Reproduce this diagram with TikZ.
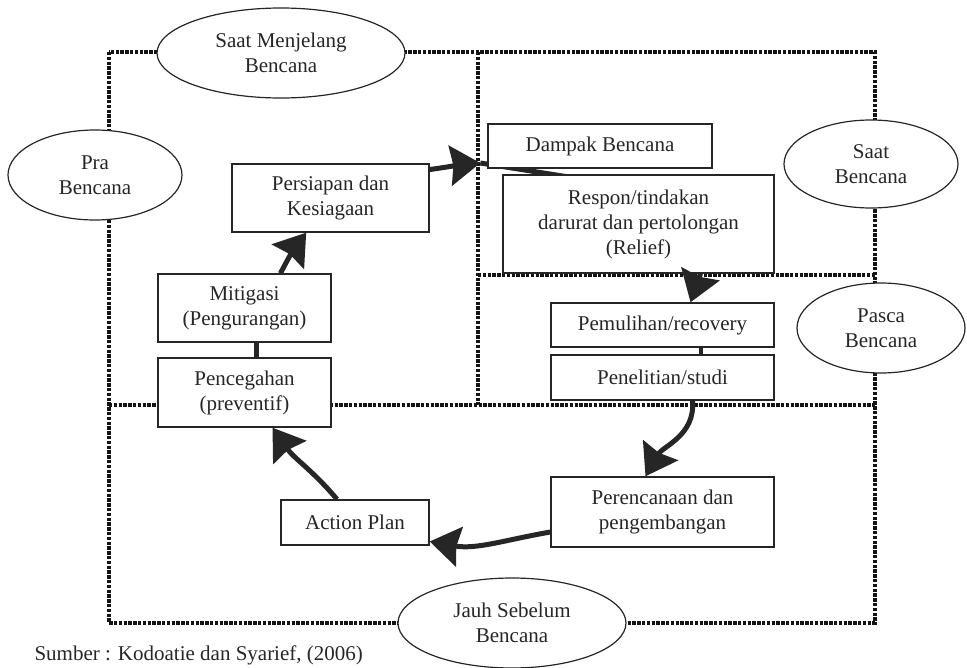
\documentclass[tikz,border=0pt]{standalone}
\usepackage{fontspec}
\setmainfont{Liberation Serif}
\usetikzlibrary{arrows.meta,calc,backgrounds,shapes.geometric}
\definecolor{ink}{HTML}{262626}
\definecolor{dots}{HTML}{141414}
\begin{document}
\begin{tikzpicture}[x=1pt,y=1pt,
  every node/.style={text=ink, font=\fontsize{21}{25}\selectfont},
  box/.style={draw=ink, line width=1.4pt, fill=white, inner sep=0pt, align=center},
  oval/.style={ellipse, draw=ink, line width=1.2pt, fill=white, inner sep=0pt, align=center},
  zone/.style={draw=dots, line width=4.4pt, dash pattern=on 3.4pt off 1.4pt},
  cyc/.style={draw=ink, line width=5pt, -{Stealth[length=30pt,width=40pt,inset=3pt]}},
  link/.style={draw=ink, line width=5pt}]
\useasboundingbox (0,0) rectangle (967,-667);

% boxes
\node[box, minimum width=197pt, minimum height=68pt] (persiapan) at (330.5,-198) {Persiapan dan\\Kesiagaan};
\node[box, minimum width=173pt, minimum height=68pt] (mitigasi) at (244.5,-308) {Mitigasi\\(Pengurangan)};
\node[box, minimum width=173pt, minimum height=69pt] (pencegahan) at (244.5,-392.5) {Pencegahan\\(preventif)};
\node[box, minimum width=148pt, minimum height=45pt] (action) at (355,-522.5) {Action Plan};
\node[box, minimum width=224pt, minimum height=44pt] (dampak) at (600,-146) {Dampak Bencana};
\node[box, minimum width=271pt, minimum height=98pt] (respon) at (638.5,-224) {Respon/tindakan\\darurat dan pertolongan\\(Relief)};
\node[box, minimum width=223pt, minimum height=44pt] (pemulihan) at (662.5,-325) {Pemulihan/recovery};
\node[box, minimum width=223pt, minimum height=45pt] (penelitian) at (662.5,-377.5) {Penelitian/studi};
\node[box, minimum width=223pt, minimum height=70pt] (perencanaan) at (662.5,-512) {Perencanaan dan\\pengembangan};

% ellipses
\node[oval, minimum width=248pt, minimum height=90pt] (menjelang) at (281,-53) {Saat Menjelang\\Bencana};
\node[oval, minimum width=174pt, minimum height=90pt] (pra) at (95,-175) {Pra\\Bencana};
\node[oval, minimum width=174pt, minimum height=88pt] (saat) at (871,-164) {Saat\\Bencana};
\node[oval, minimum width=168pt, minimum height=90pt] (pasca) at (881,-328) {Pasca\\Bencana};
\node[oval, minimum width=228pt, minimum height=90pt] (jauh) at (512,-623) {Jauh Sebelum\\Bencana};

\node[anchor=west] (src) at (31,-655) {Sumber : Kodoatie dan Syarief, (2006)};

% zone lines and hidden cycle shaft
\begin{scope}[on background layer]
  \coordinate (tl) at (109,-52);
  \coordinate (br) at (875,-623);
  \coordinate (vtop) at (478,-52);
  \coordinate (vmid) at (478,-405);
  \coordinate (hl) at (109,-405);
  \coordinate (hr) at (875,-405);
  \coordinate (ml) at (478,-275);
  \coordinate (mr) at (875,-275);
  \draw[zone] (tl) rectangle (br);
  \draw[zone] (vtop) -- (vmid);
  \draw[zone] (hl) -- (hr);
  \draw[zone] (ml) -- (mr);
  \draw[link] ($(dampak.west)+(-7,-17)$) -- ($(respon.north west)+(100,-8)$);
\end{scope}

% cycle arrows
\draw[cyc] (persiapan.16) to[out=8,in=185] ($(dampak.west)+(-7,-17)$);
\draw[cyc] (mitigasi.44) to[bend left=5] (persiapan.235);
\draw[link] ($(mitigasi.south)+(12,0)$) -- ($(pencegahan.north)+(12,0)$);
\draw[cyc] ($(respon.south)+(62,0)$) -- ($(pemulihan.north)+(28,0)$);
\draw[link, line width=4pt] ($(pemulihan.south)+(38,0)$) -- ($(penelitian.north)+(38,0)$);
\draw[cyc] ($(penelitian.south)+(30,0)$) to[out=-85,in=60] ($(perencanaan.north)+(-17,0)$);
\draw[cyc] ($(perencanaan.west)+(0,-20)$) to[out=190,in=-10] ($(action.east)+(0,-19)$);
\draw[cyc] ($(action.north)+(-18,0)$) to[out=130,in=-55] ($(pencegahan.south)+(28,0)$);
\end{tikzpicture}
\end{document}
